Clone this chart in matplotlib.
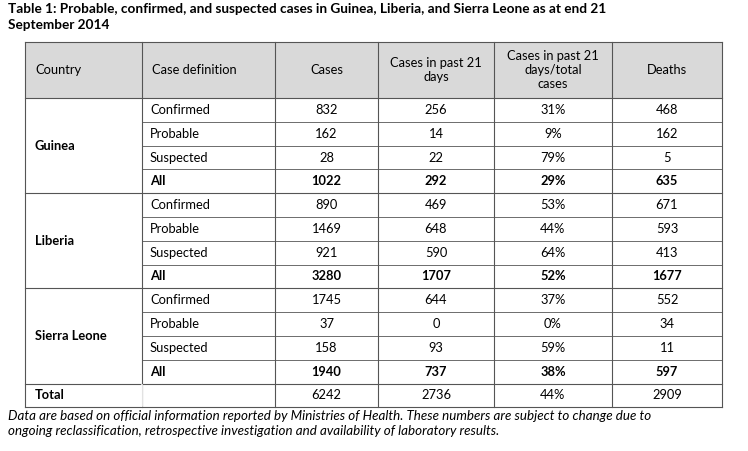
import matplotlib.pyplot as plt
from matplotlib.patches import Rectangle

title = "Table 1: Probable, confirmed, and suspected cases in Guinea, Liberia, and Sierra Leone as at end 21\nSeptember 2014"
headers = ["Country", "Case definition", "Cases", "Cases in past 21\ndays", "Cases in past 21\ndays/total\ncases", "Deaths"]
countries = ["Guinea", "Liberia", "Sierra Leone"]
definitions = ["Confirmed", "Probable", "Suspected", "All"]
cases = [[832, 162, 28, 1022], [890, 1469, 921, 3280], [1745, 37, 158, 1940]]
past21 = [[256, 14, 22, 292], [469, 648, 590, 1707], [644, 0, 93, 737]]
ratio = [["31%", "9%", "79%", "29%"], ["53%", "44%", "64%", "52%"], ["37%", "0%", "59%", "38%"]]
deaths = [[468, 162, 5, 635], [671, 593, 413, 1677], [552, 34, 11, 597]]
total = ["Total", "", 6242, 2736, "44%", 2909]
footnote = ("Data are based on official information reported by Ministries of Health. These numbers are subject to change due to\n"
            "ongoing reclassification, retrospective investigation and availability of laboratory results.")

plt.rcParams['font.family'] = ['Lato', 'DejaVu Sans']
fig = plt.figure(figsize=(7.48, 4.51), dpi=100)
ax = fig.add_axes([0, 0, 1, 1])
ax.set_xlim(0, 748)
ax.set_ylim(451, 0)
ax.axis('off')

xs = [25, 142, 275, 378, 494, 612, 722]
y_head, y_body = 42, 98
rh = 23.8
lc = '#555555'
fs = 9.3

ax.text(8, 3, title, fontsize=9.8, fontweight='bold', va='top', ha='left', linespacing=1.4)

# header
ax.add_patch(Rectangle((xs[0], y_head), xs[-1] - xs[0], y_body - y_head, fc='#d9d9d9', ec='none'))
for i, h in enumerate(headers):
    yc = (y_head + y_body) / 2
    if i < 2:
        ax.text(xs[i] + 10, yc, h, fontsize=fs, va='center', ha='left')
    else:
        ax.text((xs[i] + xs[i + 1]) / 2, yc, h, fontsize=fs, va='center', ha='center', linespacing=1.2)

def cx(i):
    return (xs[i] + xs[i + 1]) / 2

y = y_body
for g, c in enumerate(countries):
    ax.text(xs[0] + 10, y + 2 * rh, c, fontsize=fs, fontweight='bold', va='center')
    for r, d in enumerate(definitions):
        yc = y + (r + 0.5) * rh
        w = 'bold' if d == 'All' else 'normal'
        ax.text(xs[1] + 8, yc, d, fontsize=fs, fontweight=w, va='center')
        for i, v in zip(range(2, 6), [cases[g][r], past21[g][r], ratio[g][r], deaths[g][r]]):
            ax.text(cx(i), yc, str(v), fontsize=fs, fontweight=w, va='center', ha='center')
        if r < 3:
            ax.plot([xs[1], xs[-1]], [y + (r + 1) * rh] * 2, color=lc, lw=0.6)
    y += 4 * rh
    ax.plot([xs[0], xs[-1]], [y, y], color=lc, lw=0.8)

yc = y + rh / 2
ax.text(xs[0] + 10, yc, total[0], fontsize=fs, fontweight='bold', va='center')
for i in range(2, 6):
    ax.text(cx(i), yc, str(total[i]), fontsize=fs, va='center', ha='center')
y_end = y + rh

for yy in [y_head, y_body, y_end]:
    ax.plot([xs[0], xs[-1]], [yy, yy], color=lc, lw=0.8)
for i, xx in enumerate(xs):
    ax.plot([xx, xx], [y_head, y_end], color=lc, lw=0.8)
# hide the line between Total's first two cells
ax.plot([xs[1], xs[1]], [y + 1, y_end - 1], color='white', lw=1.2)

ax.text(8, y_end + 3, footnote, fontsize=9.6, style='italic', va='top', ha='left', linespacing=1.3)

fig.savefig('out.png', dpi=100)
